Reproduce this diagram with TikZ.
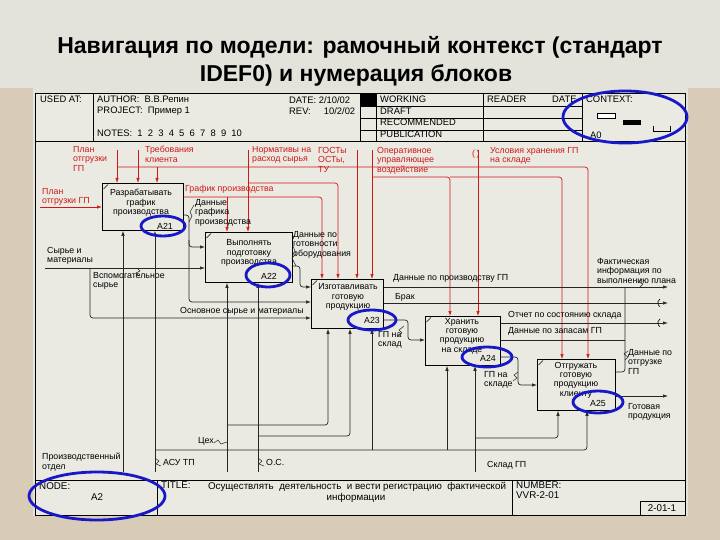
\documentclass[tikz,border=0pt]{standalone}
\usepackage{fontspec}
\setmainfont{Liberation Sans}
\usetikzlibrary{arrows.meta}
\definecolor{titlebg}{HTML}{E3E2DB}
\definecolor{side}{HTML}{D8CCB8}
\definecolor{paper}{HTML}{EAEAE3}
\definecolor{rd}{HTML}{D01818}
\definecolor{bl}{HTML}{1818C8}
\begin{document}
\begin{tikzpicture}[x=1pt,y=-1pt,
  every node/.style={font=\fontsize{8.8}{9.4}\selectfont, inner sep=0pt},
  hdr/.style={font=\fontsize{9.4}{10}\selectfont},
  ftr/.style={font=\fontsize{9.8}{11}\selectfont},
  txt/.style={anchor=north west, align=left},
  rtxt/.style={txt, text=rd},
  ctxt/.style={align=center},
  box/.style={draw, line width=0.8pt, anchor=north west},
  ctl/.style={draw=rd, line width=0.7pt, rounded corners=3pt, -{Latex[length=5pt,width=3.5pt]}},
  ctlnt/.style={draw=rd, line width=0.7pt, rounded corners=3pt},
  con/.style={draw=black!85, line width=0.7pt, rounded corners=3pt, -{Latex[length=5pt,width=3.5pt]}},
  connt/.style={draw=black!85, line width=0.7pt, rounded corners=3pt},
  sq/.style={draw=black!85, line width=0.5pt},
  ell/.style={draw=bl, line width=2.8pt},
  frm/.style={line width=0.7pt}
]
\useasboundingbox (0,0) rectangle (720,540);
% background
\fill[titlebg] (0,0) rectangle (720,540);
\fill[side] (0,88) rectangle (33,540);
\fill[side] (688,88) rectangle (720,540);
\fill[side] (0,516) rectangle (720,540);
\fill[paper] (35,93) rectangle (685,515);

% title
\node[font=\fontsize{23}{26}\bfseries\selectfont] (title1) at (360,47) {Навигация по модели: рамочный контекст (стандарт};
\node[font=\fontsize{23}{26}\bfseries\selectfont] (title2) at (356,75) {IDEF0) и нумерация блоков};

% frame
\draw[frm] (35,93) rectangle (685,515);
\draw[frm] (35,141) -- (685,141);
\draw[frm] (93,93) -- (93,141);
\draw[frm] (360,93) -- (360,141);
\draw[frm] (376,93) -- (376,141);
\draw[frm] (483,93) -- (483,141);
\draw[frm] (582,93) -- (582,141);
\draw[frm] (360,106) -- (582,106);
\draw[frm] (360,118) -- (582,118);
\draw[frm] (360,130) -- (582,130);
\fill (360,93) rectangle (376,106);

\node[txt,hdr] (usedat) at (40,96) {USED AT:};
\node[txt,hdr] (author) at (97,96) {AUTHOR:\ \ В.В.Репин};
\node[txt,hdr] (project) at (97,107) {PROJECT:\ \ Пример 1};
\node[txt,hdr] (notes) at (97,130) {NOTES:\ \ 1\ \ 2\ \ 3\ \ 4\ \ 5\ \ 6\ \ 7\ \ 8\ \ 9\ \ 10};
\node[txt,hdr] (date) at (289,96) {DATE:\ 2/10/02};
\node[txt,hdr] (rev) at (289,107) {REV:\ \ \ \ \ 10/2/02};
\node[txt,hdr] (working) at (380,96) {WORKING};
\node[txt,hdr] (draft) at (380,108) {DRAFT};
\node[txt,hdr] (recom) at (380,119) {RECOMMENDED};
\node[txt,hdr] (publ) at (380,131) {PUBLICATION};
\node[txt,hdr] (reader) at (487,96) {READER};
\node[txt,hdr] (date2) at (552,96) {DATE};
\node[txt,hdr] (context) at (586,96) {CONTEXT:};
\draw[fill=white, line width=0.6pt] (597,113) rectangle (615,118);
\fill (623,120) rectangle (641,125);
\draw[line width=0.6pt] (653,126) -- (653,131) -- (670,131) -- (670,126);
\node[txt,hdr] (a0) at (590,132) {A0};

% footer
\draw[frm] (35,480) -- (685,480);
\draw[frm] (157,480) -- (157,515);
\draw[frm] (512,480) -- (512,515);
\draw[frm] (640,501) rectangle (685,515);
\node[txt,ftr] (node) at (39,482) {NODE:};
\node[ftr] (nodea2) at (97,497) {A2};
\node[txt,ftr] (ttl) at (161,482) {TITLE:};
\node[ftr] (ttltext) at (357,487) {Осуществлять\ \ деятельность\ \ и вести регистрацию\ \ фактической};
\node[ftr] (ttltext2) at (356,498) {информации};
\node[txt,ftr] (number) at (516,482) {NUMBER:};
\node[txt,ftr] (vvr) at (516,491) {VVR-2-01};
\node[ftr] (pg) at (662,508) {2-01-1};

% boxes
\node[box, minimum width=81pt, minimum height=47pt] (A21) at (102,183) {};
\node[box, minimum width=87pt, minimum height=50pt] (A22) at (205,232) {};
\node[box, minimum width=72pt, minimum height=49pt] (A23) at (311,279) {};
\node[box, minimum width=75pt, minimum height=49pt] (A24) at (425,316) {};
\node[box, minimum width=78pt, minimum height=51pt] (A25) at (537,359) {};
\foreach \b in {A21,A22,A23,A24,A25}{
  \draw[line width=0.6pt] ([xshift=1.5pt,yshift=-6pt]\b.north west) -- ([xshift=6pt,yshift=-1.5pt]\b.north west);
}
\node[ctxt] (t21) at (141,203) {Разрабатывать\\график\\производства};
\node[ctxt] (t22) at (249,253) {Выполнять\\подготовку\\производства};
\node[ctxt] (t23) at (348,297) {Изготавливать\\готовую\\продукцию};
\node[ctxt] (t24) at (462,336) {Хранить\\готовую\\продукцию\\на складе};
\node[ctxt] (t25) at (576,380) {Отгружать\\готовую\\продукцию\\клиенту};
\node (n21) at (165,226) {A21};
\node (n22) at (269,276) {A22};
\node (n23) at (372,320) {A23};
\node (n24) at (488,358) {A24};
\node (n25) at (598,403) {A25};

% controls (red)
\node[rtxt] (c1) at (73,146) {План\\отгрузки\\ГП};
\draw[ctl] (117,150) -- (117,0 |- A21.north);
\node[rtxt] (c2) at (145,146) {Требования\\клиента};
\draw[ctl] (138,150) -- (138,0 |- A21.north);
\draw[ctl] (117,167) -- (588,167) -- (588,0 |- A25.north);
\draw[ctl] (157,167) -- (157,0 |- A21.north);
\node[rtxt] (c3) at (252,146) {Нормативы на\\расход сырья};
\draw[ctl] (248,150) -- (248,0 |- A22.north);
\draw[ctl] (248,183) -- (338,183) -- (338,0 |- A23.north);
\node[rtxt] (c4) at (318,147) {ГОСТы\\ОСТы,\\ТУ};
\draw[ctl] (357,150) -- (357,0 |- A23.north);
\node[rtxt] (c5) at (377,147) {Оперативное\\управляющее\\воздействие};
\draw[ctl] (372,150) -- (372,0 |- A23.north);
\draw[ctl] (372,177) -- (450,177) -- (450,0 |- A24.north);
\draw[ctl] (450,177) -- (562,177) -- (562,0 |- A25.north);
\node[rtxt] (tun1) at (472,150) {(\,)};
\node[rtxt] (c6) at (490,147) {Условия хранения ГП\\на складе};
\draw[ctl] (478,150) -- (478,0 |- A24.north);
\node[rtxt] (c7) at (185,185) {График производства};
\draw[ctl] (A21.east |- 0,197) -- (322,197) -- (322,0 |- A23.north);
\draw[ctl] (227,197) -- (227,0 |- A22.north);
\node[rtxt] (c8) at (42,188) {План\\отгрузки ГП};
\draw[ctl] (40,207) -- (A21.west |- 0,207);

% inputs / outputs (black)
\node[txt] (o1) at (195,199) {Данные\\графика\\производства};
\draw[con] (A21.east |- 0,215) -- (189,215) -- (189,247) -- (A22.west |- 0,247);
\draw[sq] (189,222) -- (192,216) -- (190,212) -- (194,205);
\draw[con] (189,240) -- (189,302) -- (A23.west |- 0,302);
\node[txt] (i1) at (47,247) {Сырье и\\материалы};
\draw[con] (45,268) -- (A22.west |- 0,268);
\draw[sq] (137,268) -- (140,271) -- (136,273) -- (139,276);
\node[txt] (i2) at (93,272) {Вспомогательное\\сырье};
\draw[con] (90,268) -- (90,318) -- (A23.west |- 0,318);
\node[txt] (i3) at (180,307) {Основное сырье и материалы};
\node[txt] (o2) at (293,231) {Данные по\\готовности\\оборудования};
\draw[sq] (296,266) -- (292,258) -- (296,254) -- (293,246);
\draw[con] (A22.east |- 0,266) -- (300,266) -- (300,287) -- (A23.west |- 0,287);
\node[txt] (o3) at (393,274) {Данные по производству ГП};
\draw[con] (A23.east |- 0,287) -- (668,287);
\node[txt] (o4) at (597,258) {Фактическая\\информация по\\выполнению плана};
\draw[sq] (640,287) -- (643,284) -- (639,282) -- (642,279);
\node[txt] (o5) at (395,293) {Брак};
\draw[con] (A23.east |- 0,303) -- (668,303);
\draw[line width=0.6pt] (660,299) arc[start angle=120, end angle=240, radius=4.5pt];
\node[txt] (o6) at (378,331) {ГП на\\склад};
\draw[sq] (398,336) -- (402,333) -- (399,330) -- (404,326);
\draw[con] (A23.east |- 0,320) -- (408,320) -- (408,340) -- (A24.west |- 0,340);
\node[txt] (o7) at (508,311) {Отчет по состоянию склада};
\draw[con] (A24.east |- 0,323) -- (668,323);
\draw[line width=0.6pt] (660,319) arc[start angle=120, end angle=240, radius=4.5pt];
\node[txt] (o8) at (508,327) {Данные по запасам ГП};
\draw[connt] (A24.east |- 0,340) -- (625,340);
\draw[connt] (A25.east |- 0,372) -- (625,372) -- (625,287);
\draw[sq] (625,360) -- (628,357) -- (624,354) -- (628,351);
\node[txt] (o9) at (628,349) {Данные по\\отгрузке\\ГП};
\node[txt] (o10) at (484,371) {ГП на\\складе};
\draw[sq] (518,372) -- (514,375) -- (517,378) -- (513,381);
\draw[con] (A24.east |- 0,357) -- (518,357) -- (518,385) -- (A25.west |- 0,385);
\node[txt] (o11) at (628,403) {Готовая\\продукция};
\draw[con] (A25.east |- 0,396) -- (668,396);

% mechanisms
\node[txt] (m1) at (42,453) {Производственный\\отдел};
\draw[con] (123,472) -- (123,0 |- A21.south);
\draw[con] (155,472) -- (155,0 |- A21.south);
\node[txt] (m2) at (163,459) {АСУ ТП};
\draw[sq] (155,458) -- (159,461) -- (156,464) -- (161,466);
\draw[con] (155,450) -- (587,450) -- (587,0 |- A25.south);
\draw[con] (372,450) -- (372,0 |- A23.south);
\draw[con] (447,450) -- (447,0 |- A24.south);
\node[txt] (m3) at (198,437) {Цех};
\draw[sq] (214,443) -- (218,440) -- (221,444) -- (227,442);
\draw[con] (227,472) -- (227,0 |- A22.south);
\draw[con] (227,425) -- (328,425) -- (328,0 |- A23.south);
\node[txt] (m4) at (266,459) {О.С.};
\draw[sq] (258,458) -- (262,461) -- (259,464) -- (264,466);
\draw[con] (258,472) -- (258,0 |- A22.south);
\draw[con] (258,436) -- (350,436) -- (350,0 |- A23.south);
\node[txt] (m5) at (487,461) {Склад ГП};
\draw[con] (475,472) -- (475,0 |- A24.south);
\draw[con] (475,438) -- (558,438) -- (558,0 |- A25.south);

% blue ellipses
\draw[ell] (163,226) ellipse[x radius=22, y radius=10];
\draw[ell] (268,275) ellipse[x radius=22, y radius=12];
\draw[ell] (372,320) ellipse[x radius=24, y radius=10];
\draw[ell] (487,357) ellipse[x radius=25, y radius=10];
\draw[ell] (598,402) ellipse[x radius=25, y radius=11];
\draw[ell] (625,117) ellipse[x radius=62, y radius=26];
\draw[ell] (97,496) ellipse[x radius=68, y radius=24];
\end{tikzpicture}
\end{document}
